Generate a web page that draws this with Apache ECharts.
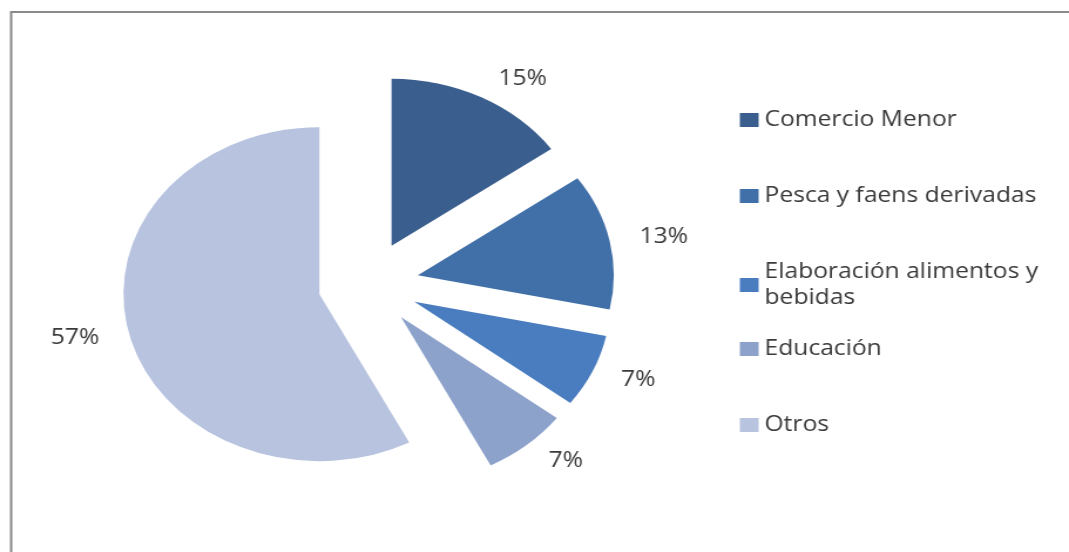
<!DOCTYPE html>
<html>
<head>
<meta charset="utf-8">
<script src="https://cdn.jsdelivr.net/npm/echarts@6/dist/echarts.min.js"></script>
<style>
html,body{margin:0;padding:0;background:#fff;overflow:hidden;}
#wrap{width:1069px;height:552px;overflow:hidden;position:relative;}
#chart{width:911px;height:552px;transform:scaleX(1.1734);transform-origin:0 0;}
</style>
</head>
<body>
<div id="wrap"><div id="chart"></div></div>
<script>
var categories = ['Comercio Menor', 'Pesca y faens derivadas', 'Elaboración alimentos y bebidas', 'Educación', 'Otros'];
var values = [15, 13, 7, 7, 57];
var colors = ['#3A5E8E', '#4170A9', '#4A7DBF', '#8DA2CB', '#B7C3DF'];

var chart = echarts.init(document.getElementById('chart'), null, {renderer: 'canvas'});
var data = categories.map(function (c, i) {
  return { name: c, value: values[i], selected: true, itemStyle: { color: colors[i] } };
});
var textStyle = { fontFamily: 'Open Sans', fontSize: 21, color: '#3a3a3a', lineHeight: 26 };
chart.setOption({
  animation: false,
  backgroundColor: '#ffffff',
  graphic: [{
    type: 'rect',
    shape: { x: 9.5, y: 12, width: 1200, height: 800 },
    style: { fill: 'none', stroke: '#8a8a8a', lineWidth: 2 },
    silent: true
  }],
  legend: [{
    orient: 'vertical',
    left: 625.5,
    top: 102,
    itemWidth: 16,
    itemHeight: 14,
    itemGap: 50,
    icon: 'rect',
    selectedMode: false,
    data: categories.slice(0, 3),
    textStyle: Object.assign({ width: 250, overflow: 'break' }, textStyle)
  }, {
    orient: 'vertical',
    left: 625.5,
    top: 331,
    itemWidth: 16,
    itemHeight: 14,
    itemGap: 50,
    icon: 'rect',
    selectedMode: false,
    data: categories.slice(3),
    textStyle: textStyle
  }],
  series: [{
    type: 'pie',
    center: [314, 284],
    radius: 167,
    startAngle: 90,
    clockwise: true,
    selectedMode: 'multiple',
    selectedOffset: 43,
    avoidLabelOverlap: false,
    emphasis: { disabled: true },
    label: {
      show: true,
      position: 'outside',
      formatter: '{c}%',
      fontFamily: 'Open Sans',
      fontSize: 21,
      color: '#3a3a3a'
    },
    labelLine: { show: false, length: 21, length2: 0 },
    data: data
  }]
});
</script>
</body>
</html>
